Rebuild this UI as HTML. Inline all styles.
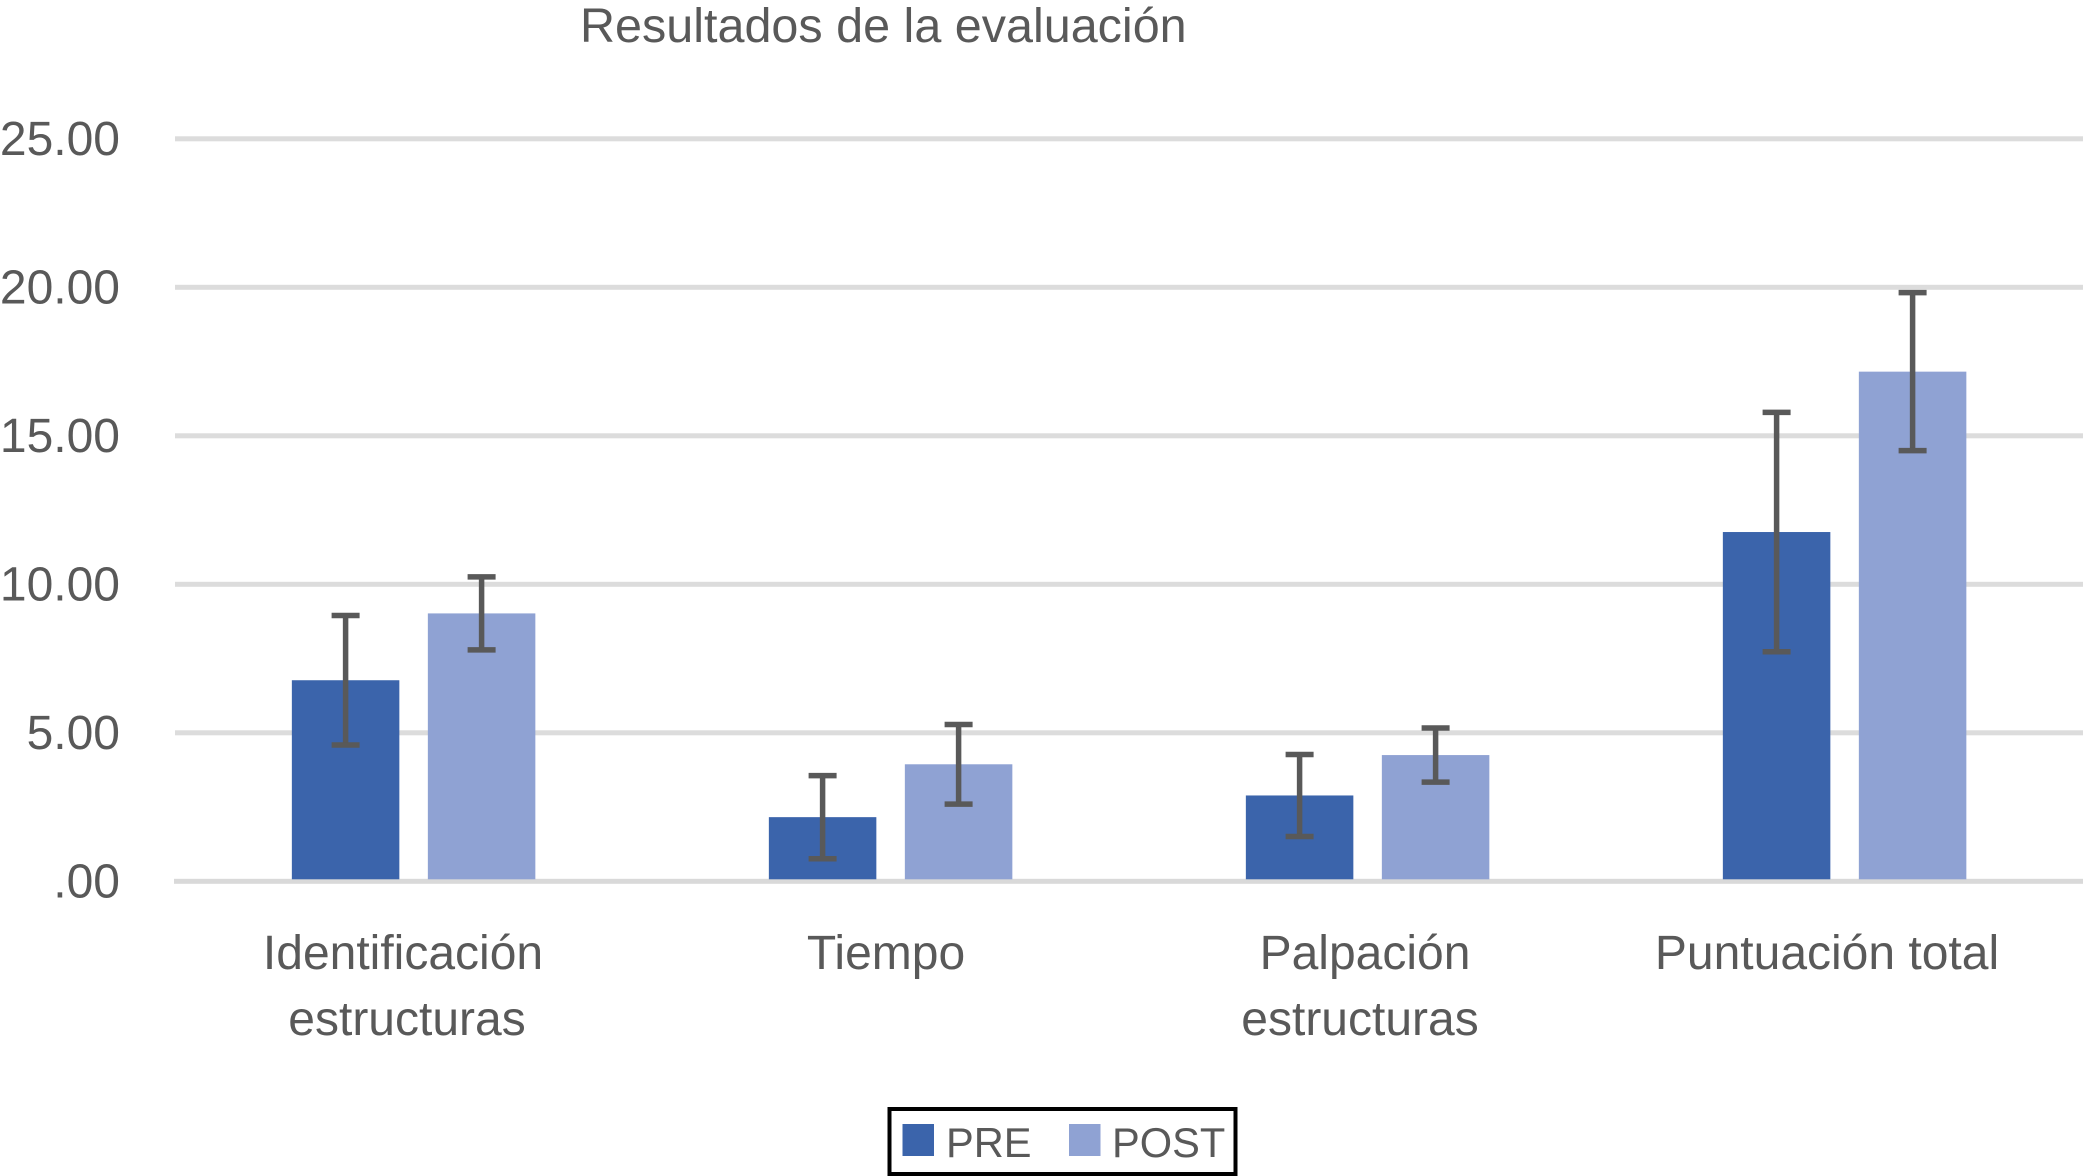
<!DOCTYPE html>
<html lang="es">
<head>
<meta charset="utf-8">
<title>Resultados de la evaluación</title>
<style>
  html, body { margin: 0; padding: 0; background: #ffffff; width: 2083px; height: 1176px; overflow: hidden; }
  svg { display: block; }
  text { font-family: "Liberation Sans", Arial, sans-serif; fill: #595959; }
</style>
</head>
<body>
<svg id="chart" xmlns="http://www.w3.org/2000/svg" width="2083" height="1176" viewBox="0 0 2083 1176">
  <rect x="0" y="0" width="2083" height="1176" fill="#ffffff"/>
  <text x="580" y="42" font-size="48.5">Resultados de la evaluación</text>
  <g id="grid"></g>
  <g id="yticks"></g>
  <g id="bars"></g>
  <g id="errors"></g>
  <g id="xlabels"></g>
  <g>
    <rect x="889.5" y="1109" width="346" height="65" fill="#ffffff" stroke="#000000" stroke-width="4"/>
    <rect x="902.5" y="1124" width="31.5" height="32" fill="#3b64ab"/>
    <text x="946" y="1157" font-size="41.6">PRE</text>
    <rect x="1069" y="1124" width="31.5" height="32" fill="#8fa2d3"/>
    <text x="1112" y="1157" font-size="41.6">POST</text>
  </g>
</svg>
<script>
const categories = [
  ["Identificación", "estructuras"],
  ["Tiempo"],
  ["Palpación", "estructuras"],
  ["Puntuación total"]
];
const preValues = [6.77, 2.16, 2.89, 11.76];
const postValues = [9.02, 3.94, 4.25, 17.16];
const preErrors = [2.18, 1.40, 1.38, 4.03];
const postErrors = [1.23, 1.34, 0.91, 2.66];
const yTickValues = [0, 5, 10, 15, 20, 25];
const yTickLabels = [".00", "5.00", "10.00", "15.00", "20.00", "25.00"];

const NS = "http://www.w3.org/2000/svg";
const plot = { y0: 881.3, unit: 29.7, left: 175, right: 2083, firstBand: 413, bandStep: 477, barWidth: 107.5, preOffset: 67.4, postOffset: 68.6, capWidth: 28, errStroke: 5.5 };
const labelNudge = [[-10, -6], [-4], [-2, -7], [-17]];

function yScale(v) { return plot.y0 - v * plot.unit; }
function xBand(i) { return plot.firstBand + i * plot.bandStep; }

function make(tag, attrs, parent) {
  const el = document.createElementNS(NS, tag);
  for (const k in attrs) el.setAttribute(k, attrs[k]);
  parent.appendChild(el);
  return el;
}

const gridG = document.getElementById("grid");
const tickG = document.getElementById("yticks");
yTickValues.forEach(function (v, i) {
  const line = make("rect", { x: plot.left - (v === 0 ? 1 : 0), y: yScale(v) - 2.5, width: plot.right - plot.left + 1, height: 5, fill: v === 0 ? "#d9d9d9" : "#dcdcdc" }, gridG);
  
  
  const t = make("text", { x: 120, y: yScale(v) + 16, "font-size": 48, "text-anchor": "end" }, tickG);
  t.textContent = yTickLabels[i];
  
  
});

const barG = document.getElementById("bars");
const errG = document.getElementById("errors");

function drawErrorBar(cx, value, err) {
  const top = yScale(value + err);
  const bottom = yScale(value - err);
  const stem = make("line", { x1: cx, x2: cx, y1: top, y2: bottom, stroke: "#595959", "stroke-width": plot.errStroke }, errG);
  
  
  const capTop = make("line", { x1: cx - plot.capWidth / 2, x2: cx + plot.capWidth / 2, y1: top, y2: top, stroke: "#595959", "stroke-width": plot.errStroke }, errG);
  
  
  const capBottom = make("line", { x1: cx - plot.capWidth / 2, x2: cx + plot.capWidth / 2, y1: bottom, y2: bottom, stroke: "#595959", "stroke-width": plot.errStroke }, errG);
  
  
}

categories.forEach(function (lines, i) {
  const preX = xBand(i) - plot.preOffset;
  const postX = xBand(i) + plot.postOffset;
  const barBottom = yScale(0) - 2;

  const pre = make("rect", { x: preX - plot.barWidth / 2, y: yScale(preValues[i]), width: plot.barWidth, height: barBottom - yScale(preValues[i]), fill: "#3b64ab" }, barG);
  
  

  const post = make("rect", { x: postX - plot.barWidth / 2, y: yScale(postValues[i]), width: plot.barWidth, height: barBottom - yScale(postValues[i]), fill: "#8fa2d3" }, barG);
  
  

  drawErrorBar(preX, preValues[i], preErrors[i]);
  drawErrorBar(postX, postValues[i], postErrors[i]);

  lines.forEach(function (line, j) {
    const t = make("text", { x: xBand(i) + labelNudge[i][j], y: 969 + j * 66, "font-size": 48, "text-anchor": "middle" }, document.getElementById("xlabels"));
    t.textContent = line;
    
    
  });
});
</script>
</body>
</html>
